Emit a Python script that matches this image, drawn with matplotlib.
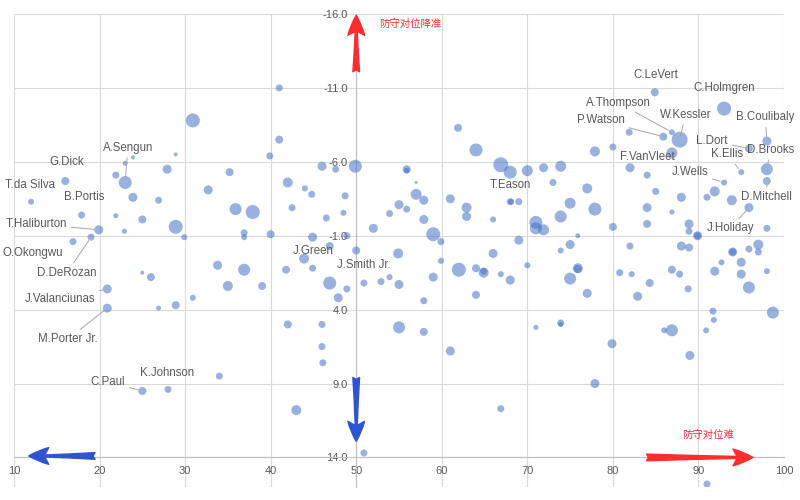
import numpy as np
import matplotlib.pyplot as plt

plt.rcParams['font.family'] = ['Liberation Sans', 'Noto Sans CJK SC', 'DejaVu Sans']

# defensive matchup data (x = matchup score, y = rating change, bubble = weight)
x_vals = [12.0, 16.0, 17.9, 19.9, 19.0, 16.9, 20.9, 20.9, 21.9, 23.0,
          23.9, 23.0, 21.9, 22.9, 23.9, 25.0, 26.9, 27.9, 25.0, 26.0,
          26.9, 25.0, 28.0, 28.9, 28.9, 29.9, 30.9, 30.9, 28.9, 32.7,
          33.8, 34.0, 35.0, 35.2, 35.9, 36.9, 36.9, 36.9, 37.9, 39.0,
          39.9, 41.0, 41.0, 40.0, 42.0, 42.5, 41.8, 42.0, 43.0, 44.0,
          44.9, 43.9, 44.9, 46.0, 46.0, 46.0, 46.1, 46.9, 46.9, 47.9,
          48.9, 48.7, 48.5, 46.5, 48.9, 50.0, 49.9, 50.9, 44.8, 47.6,
          61.9, 64.0, 55.9, 55.9, 66.9, 68.0, 70.0, 71.9, 73.9, 77.9,
          57.0, 73.0, 57.0, 57.9, 55.0, 55.9, 53.9, 61.0, 62.9, 62.9,
          57.9, 68.0, 68.1, 69.0, 66.0, 77.0, 75.0, 77.9, 73.9, 71.0,
          71.0, 71.9, 52.0, 59.0, 59.9, 69.0, 75.9, 75.0, 73.9, 54.9,
          66.0, 59.9, 70.0, 62.0, 64.0, 64.9, 64.9, 75.9, 75.9, 75.0,
          66.9, 68.0, 50.9, 52.9, 53.9, 55.0, 59.0, 57.9, 64.0, 77.0,
          55.0, 57.9, 71.0, 73.9, 73.9, 61.0, 77.9, 66.9,
          80.0, 81.9, 85.9, 86.9, 87.8, 84.9, 93.0, 98.0, 95.9, 86.9,
          82.0, 84.0, 95.0, 98.0, 93.0, 98.0, 85.0, 91.9, 91.0, 88.0,
          93.9, 84.0, 95.9, 86.9, 80.0, 84.0, 88.9, 88.9, 89.9, 89.9,
          98.0, 82.0, 88.0, 88.9, 97.0, 95.9, 97.0, 94.0, 94.0, 80.8,
          82.2, 86.9, 87.8, 91.9, 92.7, 95.0, 95.0, 95.9, 98.0, 98.7,
          82.9, 88.8, 91.7, 91.8, 86.0, 86.9, 90.9, 89.0, 79.9, 91.0,
          84.3]
y_vals = [-3.3, -4.7, -2.4, -1.4, -0.9, -0.6, 2.6, 3.9, -5.1, -5.9,
          -6.3, -4.6, -2.35, -1.3, -3.6, -2.1, -3.4, -5.5, 1.5, 1.8,
          3.9, 9.5, 9.4, -6.5, -1.6, -0.9, -8.8, 3.2, 3.7, -4.1,
          1.0, 8.5, 2.4, -5.3, -2.8, -1.2, -0.9, 1.3, -2.6, 2.4,
          -6.4, -11.0, -7.5, -1.1, -4.6, -2.9, 1.3, 5.0, 10.8, -4.2,
          -0.9, 0.55, 1.2, -5.7, 5.0, 6.5, 7.6, -0.3, 2.2, 3.2,
          2.6, -3.7, -2.55, -2.2, -1.0, 0.0, -5.7, 13.7, -3.8, -5.5,
          -8.3, -6.8, -5.5, -5.4, -5.8, -5.3, -5.4, -5.6, -5.7, -6.7,
          -4.6, -4.6, -3.8, -3.4, -3.1, -2.8, -2.5, -3.5, -2.9, -2.3,
          -2.1, -3.3, -3.3, -3.3, -2.1, -4.2, -3.2, -2.8, -2.3, -1.9,
          -1.5, -1.4, -1.5, -1.1, -0.6, -0.7, -1.0, -0.4, 0.0, 0.2,
          0.2, 0.7, 1.0, 1.3, 1.2, 1.5, 1.4, 1.2, 1.25, 1.9,
          1.6, 2.0, 2.2, 2.1, 1.8, 2.3, 1.8, 3.4, 3.0, 2.9,
          5.2, 5.5, 5.2, 4.9, 5.0, 6.8, 9.0, 10.7,
          -7.0, -8.0, -7.7, -8.0, -7.5, -10.7, -9.6, -7.4, -6.9, -6.6,
          -5.6, -5.1, -5.3, -5.5, -4.6, -4.7, -4.0, -4.0, -3.6, -3.6,
          -3.4, -2.9, -2.9, -2.6, -1.6, -1.8, -1.8, -1.3, -1.0, -1.0,
          -1.5, -0.3, -0.3, -0.2, -0.4, -0.1, 0.1, 0.1, 0.1, 1.5,
          1.6, 1.3, 1.6, 1.4, 0.8, 0.8, 1.6, 2.5, 1.4, 4.2,
          3.1, 2.6, 4.1, 4.7, 5.4, 5.4, 5.4, 7.1, 6.3, 15.8,
          2.2]
bubble = [6, 8, 7, 9, 7, 7, 9, 9, 7, 5,
          4, 13, 5, 5, 9, 8, 7, 9, 4, 8,
          5, 8, 7, 4, 14, 6, 14, 6, 8, 9,
          9, 7, 10, 8, 12, 7, 6, 12, 14, 8,
          7, 7, 8, 8, 10, 7, 8, 8, 10, 6,
          9, 10, 7, 9, 7, 7, 7, 8, 13, 9,
          7, 7, 6, 7, 7, 8, 13, 7, 7, 7,
          8, 13, 8, 6, 15, 13, 11, 9, 11, 10,
          3, 7, 11, 9, 9, 7, 7, 9, 10, 9,
          9, 7, 6, 7, 6, 10, 11, 13, 12, 13,
          12, 11, 9, 14, 7, 9, 5, 9, 6, 10,
          9, 6, 6, 14, 8, 10, 7, 10, 8, 12,
          6, 9, 7, 7, 6, 9, 9, 7, 8, 9,
          12, 8, 5, 7, 5, 9, 9, 7,
          7, 7, 8, 6, 16, 8, 14, 9, 8, 11,
          9, 7, 6, 12, 6, 8, 7, 10, 7, 9,
          10, 9, 9, 5, 8, 8, 9, 7, 9, 7,
          7, 7, 9, 8, 10, 7, 7, 9, 7, 7,
          6, 8, 7, 9, 6, 9, 9, 12, 6, 12,
          9, 7, 7, 6, 6, 12, 6, 9, 9, 7,
          8]

# player labels: name, point (x, y), label position (x, y), leader line
label_names = ['T.da Silva', 'G.Dick', 'A.Sengun', 'B.Portis', 'T.Haliburton',
               'O.Okongwu', 'D.DeRozan', 'J.Valanciunas', 'M.Porter Jr.', 'C.Paul',
               'K.Johnson', 'J.Green', 'J.Smith Jr.', 'T.Eason', 'F.VanVleet',
               'C.LeVert', 'C.Holmgren', 'A.Thompson', 'P.Watson', 'W.Kessler',
               'B.Coulibaly', 'L.Dort', 'D.Brooks', 'K.Ellis', 'J.Wells',
               'D.Mitchell', 'J.Holiday']
label_pts = [(12.0, -3.3), (16.0, -4.7), (23.0, -4.6), (17.9, -2.4), (19.9, -1.4),
             (16.9, -0.6), (19.0, -0.9), (20.9, 2.6), (20.9, 3.9), (25.0, 9.5),
             (28.0, 9.4), (46.9, -0.3), (50.9, 2.2), (68.0, -3.3), (86.9, -6.6),
             (84.9, -10.7), (93.0, -9.6), (86.9, -8.0), (85.9, -7.7), (87.8, -7.5),
             (98.0, -7.4), (95.9, -6.9), (98.0, -5.5), (95.0, -5.3), (93.0, -4.6),
             (98.0, -4.7), (95.9, -2.9)]
label_xy = [(11.9, -4.4), (16.1, -6.0), (23.3, -6.95), (18.2, -3.6), (12.6, -1.8),
            (12.2, 0.15), (16.2, 1.5), (15.4, 3.3), (16.3, 6.0), (21.0, 8.9),
            (27.9, 8.3), (45.0, 0.0), (50.9, 1.0), (68.0, -4.4), (84.0, -6.3),
            (85.0, -11.9), (93.0, -11.0), (80.6, -10.0), (78.6, -8.8), (88.5, -9.2),
            (97.8, -9.0), (91.6, -7.4), (98.4, -6.8), (93.4, -6.5), (89.0, -5.3),
            (98.0, -3.6), (93.7, -1.5)]
leader = [False, False, True, False, True,
          False, True, True, True, True,
          False, False, False, False, False,
          False, False, True, True, True,
          True, True, True, True, True,
          True, True]

fig = plt.figure(figsize=(8, 5), dpi=100)
ax = fig.add_axes([0.0175, 0.026, 0.9625, 0.946])

grid_c = '#D9D9D9'
text_c = '#595959'

ax.set_xlim(10, 100)
ax.set_ylim(16, -16)

for gx in np.arange(10, 101, 10):
    ax.axvline(gx, color=grid_c, lw=0.8, zorder=0)
for gy in list(np.arange(-16, 15, 5)) + [16]:
    ax.axhline(gy, color=grid_c, lw=0.8, zorder=0)

for s in ['top', 'right']:
    ax.spines[s].set_visible(False)
ax.spines['left'].set_position(('data', 50))
ax.spines['bottom'].set_position(('data', 14))
ax.spines['left'].set_color('#BFBFBF')
ax.spines['bottom'].set_color('#BFBFBF')
ax.spines['left'].set_linewidth(0.8)
ax.spines['bottom'].set_linewidth(0.8)

ax.set_xticks(np.arange(10, 101, 10))
ax.set_yticks(np.arange(-16, 15, 5))
ax.set_yticklabels([f'{v:.1f}' for v in np.arange(-16, 15, 5)])
ax.tick_params(length=0, labelsize=8, labelcolor=text_c, pad=6)

sizes = (np.array(bubble) * 0.72) ** 2
ax.scatter(x_vals, y_vals, s=sizes, color='#4472C4', alpha=0.55,
           edgecolors='none', zorder=3)

for name, p, t, ld in zip(label_names, label_pts, label_xy, leader):
    props = None
    if ld:
        props = dict(arrowstyle='-', color='#A6A6A6', lw=0.7,
                     shrinkA=1, shrinkB=3)
    ax.annotate(name, xy=p, xytext=t, ha='center', va='center',
                fontsize=8.3, color=text_c, arrowprops=props, zorder=4)

# direction arrows
red = '#FF2D2D'
blue = '#2E54D2'
arrow_style = 'fancy,head_length=0.9,head_width=0.75,tail_width=0.3'
ax.annotate('', xy=(50, -16.1), xytext=(50, -11.9),
            arrowprops=dict(arrowstyle=arrow_style, color=red, mutation_scale=16),
            annotation_clip=False, zorder=5)
ax.annotate('', xy=(50, 13.1), xytext=(50, 8.4),
            arrowprops=dict(arrowstyle=arrow_style, color=blue, mutation_scale=16),
            annotation_clip=False, zorder=5)
ax.annotate('', xy=(11.4, 13.9), xytext=(19.8, 13.9),
            arrowprops=dict(arrowstyle=arrow_style, color=blue, mutation_scale=16),
            annotation_clip=False, zorder=5)
ax.annotate('', xy=(96.7, 14.0), xytext=(83.6, 14.0),
            arrowprops=dict(arrowstyle=arrow_style, color=red, mutation_scale=16),
            annotation_clip=False, zorder=5)

ax.text(56.3, -15.3, '防守对位降准', color=red, fontsize=7.5, ha='center',
        va='center', family=['Noto Sans CJK SC', 'DejaVu Sans'])
ax.text(91.1, 12.5, '防守对位难', color=red, fontsize=7.5, ha='center',
        va='center', family=['Noto Sans CJK SC', 'DejaVu Sans'])

fig.savefig('out.png', dpi=100)
